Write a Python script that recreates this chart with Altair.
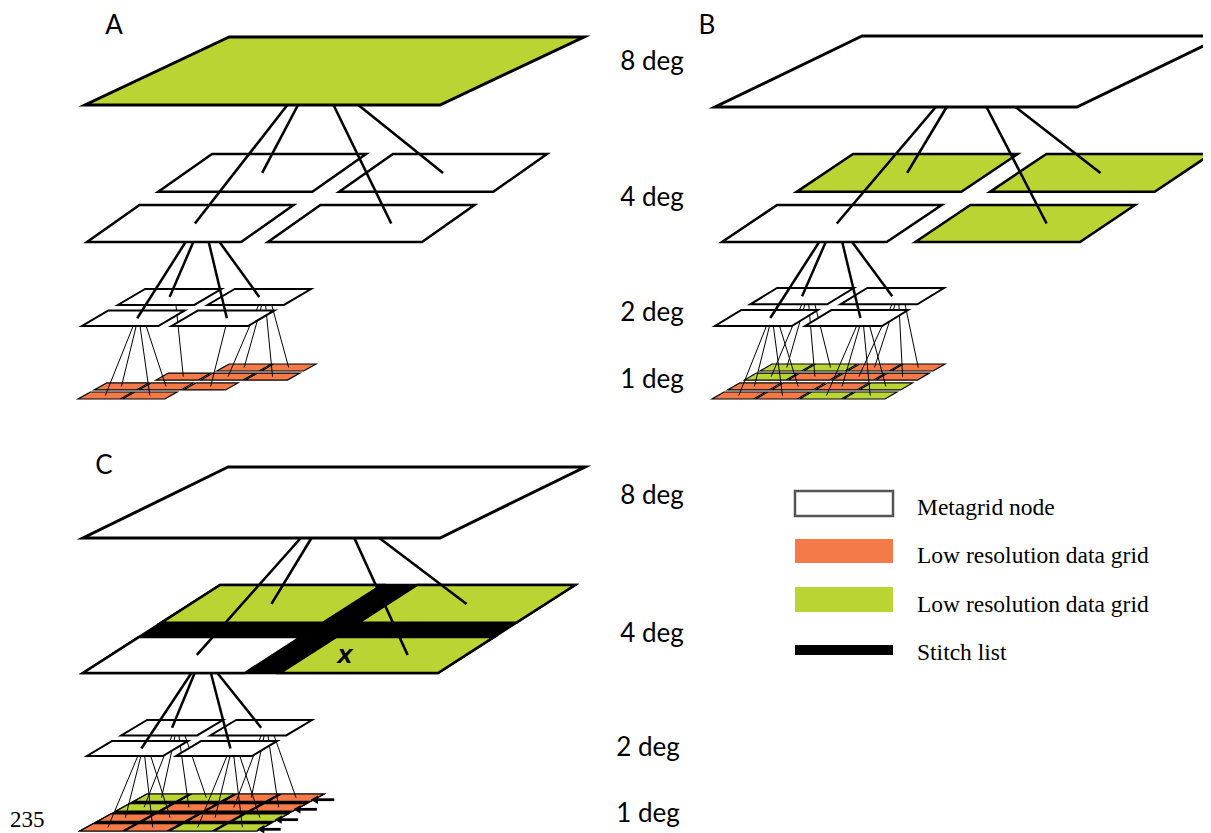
import altair as alt
import pandas as pd

# ------------------------------------------------------------------ data
PANELS = ["A", "B", "C"]
LEVEL_LABELS = ["8 deg", "4 deg", "2 deg", "1 deg"]
LABELLED_PANELS = ["A", "C"]

# kind of every node: "node" = metagrid node, "green"/"orange" = data grids
TOP_NODE = {"A": "green", "B": "node", "C": "node"}
# 4 deg children, in order front-left, back-left, front-right, back-right
MID_NODES = {
    "A": ["node", "node", "node", "node"],
    "B": ["node", "green", "green", "green"],
    "C": ["node", "green", "green", "green"],
}
# 1 deg cells, rows front -> back, columns left -> right ("" = no grid)
CELLS = {
    "A": [["orange", "orange", "", ""],
          ["orange", "orange", "orange", ""],
          ["", "orange", "orange", "orange"],
          ["", "", "orange", "orange"]],
    "B": [["orange", "orange", "green", "green"],
          ["orange", "orange", "orange", "green"],
          ["green", "orange", "orange", "orange"],
          ["green", "green", "orange", "orange"]],
    "C": [["orange", "orange", "green", "green"],
          ["orange", "orange", "orange", "green"],
          ["green", "orange", "orange", "orange"],
          ["green", "green", "orange", "orange"]],
}
STITCHED = {"A": False, "B": False, "C": True}
LEGEND_KINDS = ["node", "orange", "green", "stitch"]
LEGEND_LABELS = ["Metagrid node", "Low resolution data grid",
                 "Low resolution data grid", "Stitch list"]
PAGE_NUMBER = "235"
STITCH_MARK = "X"

# ------------------------------------------------------------------ styles / layout
COLORS = {"node": "#ffffff", "green": "#B9D433", "orange": "#F47A48", "stitch": "#000000"}

# (x0, y0, width, depth, shear) of every level plane (front-left corner)
LEVEL_GEOM = {
    ("A", 8): (85, 105, 355, 68, 144),
    ("A", 4): (87, 242, 335, 88, 125),
    ("A", 2): (82, 326, 166, 37, 63),
    ("A", 1): (78, 399, 176, 35, 62),
    ("B", 8): (715, 107, 362, 71, 147),
    ("B", 4): (722, 242, 358, 88, 131),
    ("B", 2): (715, 326, 167, 38, 62),
    ("B", 1): (712, 399, 173, 35, 60),
    ("C", 8): (83, 538, 357, 71, 145),
    ("C", 4): (83, 673, 355, 88, 137),
    ("C", 2): (87, 756, 165, 36, 60),
    ("C", 1): (80, 831, 177, 37, 67),
}
QUAD_U = [(0.0, 0.46), (0.54, 1.0)]
QUAD_V = [(0.0, 0.42), (0.57, 1.0)]
STITCH_U = [(0.0, 0.456), (0.555, 1.0)]
STITCH_V = [(0.0, 0.41), (0.57, 1.0)]
CHILD_ORDER = [(0, 0), (0, 1), (1, 0), (1, 1)]  # (col, row): FL, BL, FR, BR
CELL_U = [(0.0, 0.24), (0.253, 0.493), (0.507, 0.747), (0.76, 1.0)]
CELL_V = [(0.0, 0.2), (0.26, 0.46), (0.54, 0.74), (0.8, 1.0)]

START_84 = {"A": [0.57, 0.60, 0.70, 0.77], "B": [0.61, 0.64, 0.75, 0.83],
            "C": [0.61, 0.64, 0.76, 0.83]}
START_42 = {"A": [0.64, 0.69, 0.79, 0.86], "B": [0.59, 0.63, 0.73, 0.79],
            "C": [0.67, 0.69, 0.79, 0.83]}
START_21 = [0.67, 0.71, 0.76, 0.84]
END_84 = [(0.53, 0.5), (0.5, 0.5), (0.63, 0.5), (0.5, 0.5)]
END_42 = [(0.55, 0.5), (0.5, 0.5), (0.55, 0.5), (0.5, 0.5)]

LETTER_POS = {"A": (114, 34), "B": (707, 34), "C": (104, 474)}   # baselines
LABEL_X = {"A": [652, 652, 652, 652], "C": [652, 652, 648, 648]}
LABEL_Y = {"A": [69.5, 206, 320.5, 387.5], "C": [503.5, 641.5, 755.5, 821.5]}  # baselines
LEG_X0, LEG_X1, LEG_TX = 795, 893, 917
LEG_Y0 = [491, 539, 587, 645]
LEG_Y1 = [516, 563, 612, 655]
LEG_TY = [515, 563, 611.5, 660]   # baselines
PAGE_POS = (10, 827)
STITCH_POS = (345, 663)

XS = alt.Scale(domain=[8, 1203], nice=False, zero=False)
YS = alt.Scale(domain=[8, 833], reverse=True, nice=False, zero=False)


def to_xy(p, lev, u, v):
    x0, y0, w, d, s = LEVEL_GEOM[(p, lev)]
    return x0 + u * w + v * s, y0 - v * d


def poly(pid, p, lev, u0, u1, v0, v1, fill, stroke, sw):
    xb0, yb = to_xy(p, lev, u0, v0)
    xb1, _ = to_xy(p, lev, u1, v0)
    xt0, yt = to_xy(p, lev, u0, v1)
    xt1, _ = to_xy(p, lev, u1, v1)
    return [dict(id=pid, y=yb, x=xb0, x2=xb1, fill=fill, stroke=stroke, sw=sw),
            dict(id=pid, y=yt, x=xt0, x2=xt1, fill=fill, stroke=stroke, sw=sw)]


def quad_box(p, lev, k):
    c, r = CHILD_ORDER[k]
    if lev == 4 and STITCHED[p]:
        return STITCH_U[c] + STITCH_V[r]
    return QUAD_U[c] + QUAD_V[r]


cell_bg, cells, q2_back, q2_front, q4_bg, q4, q8 = [], [], [], [], [], [], []
l21, l42, l84, arrows = [], [], [], []

for p in PANELS:
    q8 += poly(f"{p}8", p, 8, 0, 1, 0, 1, COLORS[TOP_NODE[p]], "black", 3)
    if STITCHED[p]:
        q4_bg += poly(f"{p}4bg", p, 4, 0, 1, 0, 1, COLORS["stitch"], "black", 2.5)
    for k in range(4):
        u0, u1, v0, v1 = quad_box(p, 4, k)
        q4 += poly(f"{p}4_{k}", p, 4, u0, u1, v0, v1, COLORS[MID_NODES[p][k]], "black", 2.5)
        sx, sy = to_xy(p, 8, START_84[p][k], 0)
        lu, lv = END_84[k]
        ex, ey = to_xy(p, 4, u0 + lu * (u1 - u0), v0 + lv * (v1 - v0))
        l84.append(dict(x=sx, y=sy, x2=ex, y2=ey))
    fu0, fu1, fv0, fv1 = quad_box(p, 4, 0)
    for k in range(4):
        u0, u1, v0, v1 = quad_box(p, 2, k)
        target = q2_back if CHILD_ORDER[k][1] == 1 else q2_front
        target += poly(f"{p}2_{k}", p, 2, u0, u1, v0, v1, COLORS["node"], "black", 2)
        sx, sy = to_xy(p, 4, fu0 + START_42[p][k] * (fu1 - fu0), 0)
        lu, lv = END_42[k]
        ex, ey = to_xy(p, 2, u0 + lu * (u1 - u0), v0 + lv * (v1 - v0))
        l42.append(dict(x=sx, y=sy, x2=ex, y2=ey))
        qc, qr = CHILD_ORDER[k]
        for j in range(4):
            cc, cr = CHILD_ORDER[j]
            row, col = 2 * qr + cr, 2 * qc + cc
            if CELLS[p][row][col]:
                sx, sy = to_xy(p, 2, u0 + START_21[j] * (u1 - u0), v0)
                cu0, cu1 = CELL_U[col]
                cv0, cv1 = CELL_V[row]
                ex, ey = to_xy(p, 1, (cu0 + cu1) / 2, (cv0 + cv1) / 2)
                l21.append(dict(x=sx, y=sy, x2=ex, y2=ey))
    if STITCHED[p]:
        cell_bg += poly(f"{p}1bg", p, 1, 0, 1, 0, 1, COLORS["stitch"], "black", 1.2)
    for row in range(4):
        for col in range(4):
            kind = CELLS[p][row][col]
            if kind:
                cells += poly(f"{p}1_{row}{col}", p, 1, *CELL_U[col], *CELL_V[row],
                              COLORS[kind], "black", 1.2)
    if STITCHED[p]:
        for row in range(4):
            vc = sum(CELL_V[row]) / 2
            xe, ye = to_xy(p, 1, 1.0, vc)
            arrows.append(dict(x=xe - 1, y=ye + 2, x2=xe + 17, y2=ye + 2))

legend_polys = []
for i, kind in enumerate(LEGEND_KINDS):
    stroke = "#555555" if kind == "node" else COLORS[kind]
    sw = 2.5 if kind == "node" else 0
    legend_polys += [
        dict(id=f"L{i}", y=LEG_Y1[i], x=LEG_X0, x2=LEG_X1, fill=COLORS[kind], stroke=stroke, sw=sw),
        dict(id=f"L{i}", y=LEG_Y0[i], x=LEG_X0, x2=LEG_X1, fill=COLORS[kind], stroke=stroke, sw=sw),
    ]


def area_layer(rows):
    return alt.Chart(pd.DataFrame(rows)).mark_area(
        orient="horizontal", strokeJoin="miter", strokeMiterLimit=10
    ).encode(
        x=alt.X("x:Q", scale=XS, axis=None, stack=None),
        x2="x2:Q",
        y=alt.Y("y:Q", scale=YS, axis=None),
        detail="id:N",
        fill=alt.Fill("fill:N", scale=None),
        stroke=alt.Stroke("stroke:N", scale=None),
        strokeWidth=alt.StrokeWidth("sw:Q", scale=None),
    )


def rule_layer(rows, width):
    return alt.Chart(pd.DataFrame(rows)).mark_rule(
        color="black", strokeWidth=width, strokeCap="butt"
    ).encode(
        x=alt.X("x:Q", scale=XS, axis=None),
        y=alt.Y("y:Q", scale=YS, axis=None),
        x2="x2:Q", y2="y2:Q",
    )


def text_layer(rows, **kw):
    return alt.Chart(pd.DataFrame(rows)).mark_text(**kw).encode(
        x=alt.X("x:Q", scale=XS, axis=None),
        y=alt.Y("y:Q", scale=YS, axis=None),
        text="text:N",
    )


heads = [dict(x=a["x"] - 2, y=a["y"]) for a in arrows]
head_layer = alt.Chart(pd.DataFrame(heads)).mark_point(
    shape="triangle-left", filled=True, size=70, color="black", opacity=1
).encode(x=alt.X("x:Q", scale=XS, axis=None), y=alt.Y("y:Q", scale=YS, axis=None))

deg_rows = []
for p in LABELLED_PANELS:
    for i, lab in enumerate(LEVEL_LABELS):
        deg_rows.append(dict(x=LABEL_X[p][i], y=LABEL_Y[p][i], text=lab))
letter_rows = [dict(x=LETTER_POS[p][0], y=LETTER_POS[p][1], text=p) for p in PANELS]
legend_text_rows = [dict(x=LEG_TX, y=LEG_TY[i], text=t) for i, t in enumerate(LEGEND_LABELS)]

layers = [
    area_layer(cell_bg),
    area_layer(cells),
    rule_layer(l21, 1),
    area_layer(q2_back),
    area_layer(q2_front),
    rule_layer(l42, 2.5),
    area_layer(q4_bg),
    area_layer(q4),
    rule_layer(l84, 2.6),
    area_layer(q8),
    rule_layer(arrows, 2.8),
    head_layer,
    area_layer(legend_polys),
    text_layer(deg_rows, font="Lato", fontSize=26, align="center", baseline="alphabetic", color="black"),
    text_layer(letter_rows, font="Lato", fontSize=26, align="center", baseline="alphabetic", color="black"),
    text_layer(legend_text_rows, font="Liberation Serif", fontSize=23.5, align="left",
               baseline="alphabetic", color="black"),
    text_layer([dict(x=PAGE_POS[0], y=PAGE_POS[1], text=PAGE_NUMBER)], font="Liberation Serif",
               fontSize=23, align="left", baseline="alphabetic", color="black"),
    text_layer([dict(x=STITCH_POS[0], y=STITCH_POS[1], text=STITCH_MARK)], font="DejaVu Sans",
               fontSize=20, fontStyle="italic", fontWeight="bold", align="center",
               baseline="alphabetic", color="black"),
]

chart = alt.layer(*layers).properties(
    width=1195, height=825, padding=0, background="white",
    autosize=alt.AutoSizeParams(type="none"),
).configure_view(stroke=None)

chart.save("out.html", embed_options={"renderer": "svg", "actions": False})
